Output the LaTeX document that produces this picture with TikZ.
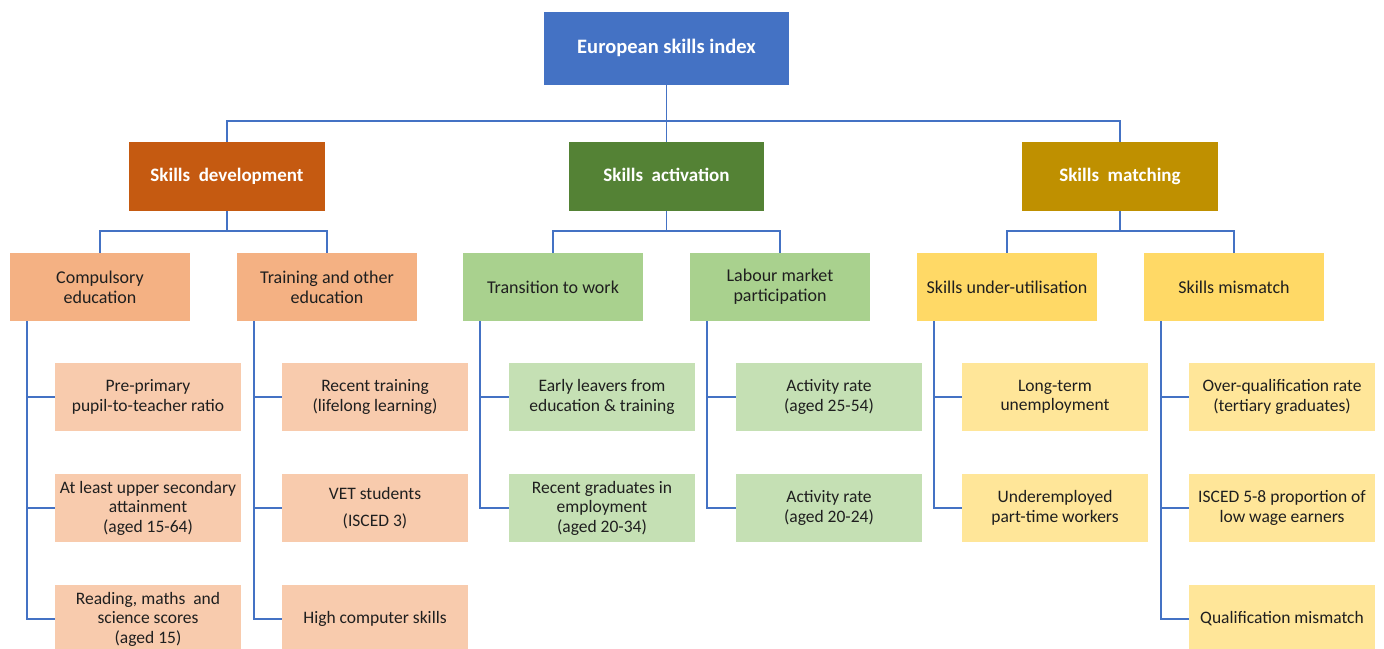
\documentclass[tikz,border=0pt]{standalone}
\usepackage{fontspec}
\setmainfont{Carlito}
\definecolor{linkblue}{HTML}{4472C4}
\definecolor{topblue}{HTML}{4472C4}
\definecolor{devdark}{HTML}{C55A11}
\definecolor{actdark}{HTML}{548235}
\definecolor{matdark}{HTML}{BF9000}
\definecolor{devmid}{HTML}{F4B183}
\definecolor{actmid}{HTML}{A9D18E}
\definecolor{matmid}{HTML}{FFD966}
\definecolor{devlight}{HTML}{F8CBAD}
\definecolor{actlight}{HTML}{C5E0B4}
\definecolor{matlight}{HTML}{FFE699}
\tikzset{
  basebox/.style={rectangle, inner sep=0pt, align=center, text=black!88,
    font=\fontsize{17.5}{19.5}\selectfont},
  topbox/.style={basebox, fill=topblue, minimum width=245pt, minimum height=73pt,
    text=white, text height=14pt, text depth=4pt, font=\bfseries\fontsize{20.5}{23}\selectfont},
  lvtwo/.style={basebox, minimum width=196pt, minimum height=69pt,
    text=white, text height=13pt, text depth=4pt, font=\bfseries\fontsize{19}{22}\selectfont},
  lvthree/.style={basebox, minimum width=180pt, minimum height=68pt,
    font=\fontsize{18}{20}\selectfont},
  lvfour/.style={basebox, minimum width=186pt, minimum height=68pt},
  link/.style={draw=linkblue, line width=1.6pt}
}
\begin{document}
\begin{tikzpicture}[x=1pt,y=-1pt]
\useasboundingbox (0,0) rectangle (1384,648);
\clip (0,0) rectangle (1384,648);
% top
\node[topbox] (top) at (666.5,48.5) {European skills index};
% level 2
\node[lvtwo, fill=devdark] (dev) at (227,176.5) {Skills\ \ development};
\node[lvtwo, fill=actdark, minimum width=195pt] (act) at (666.5,176.5) {Skills\ \ activation};
\node[lvtwo, fill=matdark] (mat) at (1120,176.5) {Skills\ \ matching};
% level 3
\node[lvthree, fill=devmid] (ce) at (100,287) {Compulsory\\education};
\node[lvthree, fill=devmid] (te) at (327,287) {Training and other\\education};
\node[lvthree, fill=actmid] (tw) at (553,287) {Transition to work};
\node[lvthree, fill=actmid] (lm) at (780,287) {Labour market\\participation};
\node[lvthree, fill=matmid] (su) at (1007,287) {Skills under-utilisation};
\node[lvthree, fill=matmid] (sm) at (1234,287) {Skills mismatch};
% level 4
\node[lvfour, fill=devlight] (ceA) at (148,397) {Pre-primary\\pupil-to-teacher ratio};
\node[lvfour, fill=devlight] (ceB) at (148,508) {At least upper secondary\\attainment\\(aged 15-64)};
\node[lvfour, fill=devlight] (ceC) at (148,619) {Reading, maths\ \ and\\science scores\\(aged 15)};
\node[lvfour, fill=devlight] (teA) at (375,397) {Recent training\\(lifelong learning)};
\node[lvfour, fill=devlight] (teB) at (375,508) {VET students\\[7pt](ISCED 3)};
\node[lvfour, fill=devlight] (teC) at (375,619) {High computer skills};
\node[lvfour, fill=actlight] (twA) at (602,397) {Early leavers from\\education \& training};
\node[lvfour, fill=actlight] (twB) at (602,508) {Recent graduates in\\employment\\(aged 20-34)};
\node[lvfour, fill=actlight] (lmA) at (829,397) {Activity rate\\(aged 25-54)};
\node[lvfour, fill=actlight] (lmB) at (829,508) {Activity rate\\(aged 20-24)};
\node[lvfour, fill=matlight] (suA) at (1055,397) {Long-term\\unemployment};
\node[lvfour, fill=matlight] (suB) at (1055,508) {Underemployed\\part-time workers};
\node[lvfour, fill=matlight] (smA) at (1282,397) {Over-qualification rate\\(tertiary graduates)};
\node[lvfour, fill=matlight] (smB) at (1282,508) {ISCED 5-8 proportion of\\low wage earners};
\node[lvfour, fill=matlight] (smC) at (1282,619) {Qualification mismatch};
% connectors level 1-2
\draw[link] (top.south) -- (act.north);
\draw[link] (dev.north) -- ++(0,-21) -| (mat.north);
% connectors level 2-3
\foreach \p/\a/\b in {dev/ce/te, act/tw/lm, mat/su/sm}{
  \draw[link] (\p.south) -- ++(0,20);
  \draw[link] (\a.north) -- ++(0,-22) -| (\b.north);
}
% connectors level 3-4
\foreach \p/\last/\others in {ce/ceC/{ceA,ceB}, te/teC/{teA,teB}, tw/twB/{twA}, lm/lmB/{lmA}, su/suB/{suA}, sm/smC/{smA,smB}}{
  \draw[link] ([xshift=-73pt]\p.south) |- (\last.west);
  \foreach \o in \others {
    \draw[link] (\o.west) -- ++(-28,0);
  }
}
\end{tikzpicture}
\end{document}
